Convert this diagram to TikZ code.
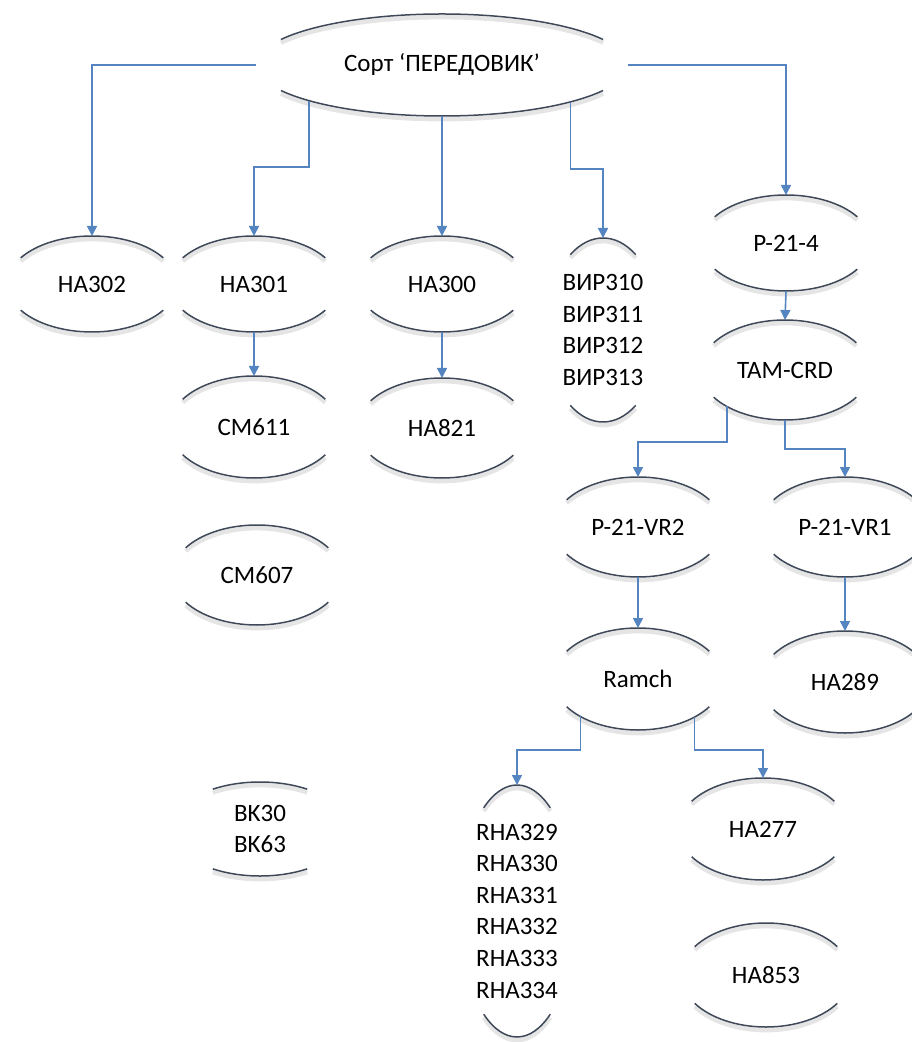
\documentclass[tikz,border=0pt]{standalone}
\usepackage{fontspec}
\setmainfont{Carlito}
\usetikzlibrary{shapes.geometric, arrows.meta, calc}

\definecolor{rimgray}{RGB}{62,72,88}
\definecolor{linkblue}{RGB}{84,133,192}

\begin{document}
\begin{tikzpicture}[x=0.5pt, y=0.5pt]

\tikzset{sort/.style = {shape=ellipse, inner sep=0pt, outer sep=0pt, align=center,
    minimum width=85pt, minimum height=48pt, font=\fontsize{12.5}{15.8}\selectfont}}
\tikzset{rim/.style = {draw=rimgray, line width=0.75pt,
    preaction={draw=black!10, line width=2.2pt, transform canvas={yshift=-1.6pt}}}}
\tikzset{link/.style = {draw=linkblue, line width=0.8pt, -{Triangle[width=5pt,length=5pt]}}}

\useasboundingbox (0,0) rectangle (911,-1042);

% varieties
\node[sort, minimum width=186pt, minimum height=51pt] (root) at (442,-65) {Сорт ‘ПЕРЕДОВИК’};
\node[sort] (ha302) at (92,-284) {HA302};
\node[sort] (ha301) at (254,-284) {HA301};
\node[sort] (ha300) at (442,-284) {HA300};
\node[sort, minimum width=56pt, minimum height=92pt] (vir) at (603,-330) {ВИР310\\ВИР311\\ВИР312\\ВИР313};
\node[sort] (p214) at (786,-243) {P-21-4};
\node[sort, minimum height=51pt] (cm611) at (254,-427) {CM611};
\node[sort, minimum height=50pt] (ha821) at (442,-428) {HA821};
\node[sort, minimum height=50pt] (cm607) at (257,-575) {CM607};
\node[sort, minimum height=50pt] (tam) at (785,-370) {TAM-CRD};
\node[sort, minimum height=50pt] (vr2) at (638,-527) {P-21-VR2};
\node[sort, minimum height=50pt] (vr1) at (845,-527) {P-21-VR1};
\node[sort, minimum height=51pt] (ramch) at (638,-679) {Ramch};
\node[sort, minimum height=51pt] (ha289) at (845,-682) {HA289};
\node[sort, minimum width=58pt, minimum height=126pt] (rha) at (517,-911) {RHA329\\RHA330\\RHA331\\RHA332\\RHA333\\RHA334};
\node[sort, minimum height=51pt] (ha277) at (763,-829) {HA277};
\node[sort, minimum height=52pt] (ha853) at (766,-975) {HA853};
\node[sort, minimum width=89pt, minimum height=47pt] (bk) at (260,-829) {BK30\\BK63};

% rims
\foreach \nd/\ang in {root/60, ha302/57, ha301/57, ha300/57, vir/35, p214/57, cm611/57,
    ha821/57, cm607/57, tam/57, vr2/57, vr1/57, ramch/57, ha289/57, rha/35, ha277/57,
    ha853/57, bk/32}
  \draw[rim] let \p1 = ($(\nd.east)-(\nd.center)$), \p2 = ($(\nd.north)-(\nd.center)$) in
    (\nd.north) arc[start angle=90, delta angle=\ang, x radius=\x1, y radius=\y2]
    (\nd.north) arc[start angle=90, delta angle=-\ang, x radius=\x1, y radius=\y2]
    (\nd.south) arc[start angle=270, delta angle=\ang, x radius=\x1, y radius=\y2]
    (\nd.south) arc[start angle=270, delta angle=-\ang, x radius=\x1, y radius=\y2];

% links
\draw[link] (root.west) -| (ha302.north);
\draw[link] (root.195) |- ([yshift=34.5pt]ha301.north) -- (ha301.north);
\draw[link] (root.south) -- (ha300.north);
\draw[link] (root.344) |- ([yshift=34.5pt]vir.north) -- (vir.north);
\draw[link] (root.east) -| (p214.north);
\draw[link] (ha301.south) -- (cm611.north);
\draw[link] (ha300.south) -- (ha821.north);
\draw[link] (p214.south) -- (tam.north);
\draw[link] (tam.212) |- ([yshift=17.5pt]vr2.north) -- (vr2.north);
\draw[link] (tam.south) |- ([yshift=14pt]vr1.north) -- (vr1.north);
\draw[link] (vr2.south) -- (ramch.north);
\draw[link] (vr1.south) -- (ha289.north);
\draw[link] (ramch.213) |- ([yshift=17.5pt]rha.north) -- (rha.north);
\draw[link] (ramch.326) |- ([yshift=14pt]ha277.north) -- (ha277.north);
\end{tikzpicture}
\end{document}
